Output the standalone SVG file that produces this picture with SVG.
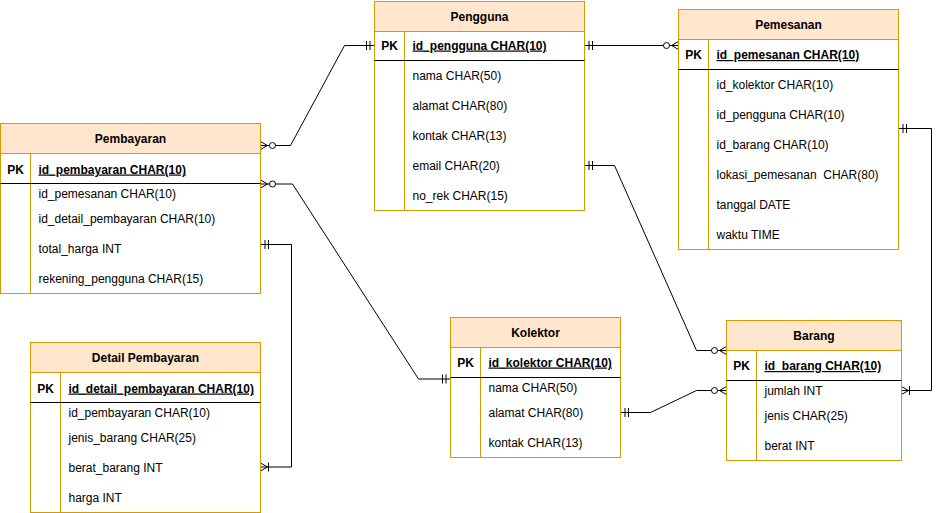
<svg xmlns="http://www.w3.org/2000/svg" width="942" height="513" viewBox="0 0 942 513">
<style>
.frame{fill:#ffffff;stroke:#d79b00;stroke-width:1}
.head{fill:#ffe6cc;stroke:#d79b00;stroke-width:1}
.col{stroke:#d79b00;stroke-width:1}
.sep{stroke:#000000;stroke-width:1}
text{font-family:"Liberation Sans",Arial,Helvetica,sans-serif;font-size:12px;fill:#000000;white-space:pre}
.t{font-weight:bold;text-anchor:middle}
.pk{font-weight:bold;text-anchor:middle}
.key{font-weight:bold;text-decoration:underline}
.edge{fill:none;stroke:#000000;stroke-width:1}
.mk{fill:none;stroke:#000000;stroke-width:1}
</style>
<defs>
<marker id="one" markerUnits="userSpaceOnUse" viewBox="-16 -7 18 14" refX="0" refY="0" markerWidth="18" markerHeight="14" orient="auto-start-reverse" overflow="visible">
<path class="mk" d="M-4.5,-4.5V4.5M-8,-4.5V4.5"/>
</marker>
<marker id="zmany" markerUnits="userSpaceOnUse" viewBox="-16 -7 18 14" refX="0" refY="0" markerWidth="18" markerHeight="14" orient="auto-start-reverse" overflow="visible">
<path class="mk" d="M0,-4L-7,0L0,4"/>
<circle cx="-12" cy="0" r="3" fill="#ffffff" stroke="#000000" stroke-width="1"/>
</marker>
<marker id="omany" markerUnits="userSpaceOnUse" viewBox="-16 -7 18 14" refX="0" refY="0" markerWidth="18" markerHeight="14" orient="auto-start-reverse" overflow="visible">
<path class="mk" d="M0,-4L-7,0L0,4M-8,-4.5V4.5"/>
</marker>
</defs>

<g id="connectors">
<path class="edge" d="M260.5,145.5H290.5L344.5,45.5H374.5" marker-start="url(#zmany)" marker-end="url(#one)"/>
<path class="edge" d="M584.5,45.5H678.5" marker-start="url(#one)" marker-end="url(#zmany)"/>
<path class="edge" d="M260.5,184H292.5L418.5,379H450.5" marker-start="url(#zmany)" marker-end="url(#one)"/>
<path class="edge" d="M260.5,244.5H291.5V467H260.5" marker-start="url(#one)" marker-end="url(#omany)"/>
<path class="edge" d="M584.5,165.5H614.5L696.5,350.5H726.5" marker-start="url(#one)" marker-end="url(#zmany)"/>
<path class="edge" d="M620.5,412.5H650.5L696.5,390.5H726.5" marker-start="url(#one)" marker-end="url(#zmany)"/>
<path class="edge" d="M898.5,128.5H931.5V390.5H901.5" marker-start="url(#one)" marker-end="url(#omany)"/>
</g>

<g id="pengguna">
<rect class="frame" x="374.5" y="1.5" width="210" height="209"/>
<rect class="head" x="374.5" y="1.5" width="210" height="30"/>
<line class="col" x1="404.5" y1="31.5" x2="404.5" y2="210.5"/>
<line class="sep" x1="374.5" y1="60.5" x2="584.5" y2="60.5"/>
<text class="t" x="479.5" y="20.5">Pengguna</text>
<text class="pk" x="389.5" y="49.5">PK</text>
<text class="key" x="412.5" y="49.5">id_pengguna CHAR(10)</text>
<text x="412.5" y="79.5">nama CHAR(50)</text>
<text x="412.5" y="109.5">alamat CHAR(80)</text>
<text x="412.5" y="139.5">kontak CHAR(13)</text>
<text x="412.5" y="169.5">email CHAR(20)</text>
<text x="412.5" y="199.5">no_rek CHAR(15)</text>
</g>

<g id="pemesanan">
<rect class="frame" x="678.5" y="9.5" width="220" height="240"/>
<rect class="head" x="678.5" y="9.5" width="220" height="30"/>
<line class="col" x1="708.5" y1="39.5" x2="708.5" y2="249.5"/>
<line class="sep" x1="678.5" y1="69.5" x2="898.5" y2="69.5"/>
<text class="t" x="788.5" y="28.5">Pemesanan</text>
<text class="pk" x="693.5" y="59">PK</text>
<text class="key" x="716.5" y="59">id_pemesanan CHAR(10)</text>
<text x="716.5" y="89">id_kolektor CHAR(10)</text>
<text x="716.5" y="119">id_pengguna CHAR(10)</text>
<text x="716.5" y="149">id_barang CHAR(10)</text>
<text x="716.5" y="179" xml:space="preserve">lokasi_pemesanan  CHAR(80)</text>
<text x="716.5" y="209">tanggal DATE</text>
<text x="716.5" y="239">waktu TIME</text>
</g>

<g id="pembayaran">
<rect class="frame" x="0.5" y="123.5" width="260" height="170"/>
<rect class="head" x="0.5" y="123.5" width="260" height="30"/>
<line class="col" x1="30.5" y1="153.5" x2="30.5" y2="293.5"/>
<line class="sep" x1="0.5" y1="183.5" x2="260.5" y2="183.5"/>
<text class="t" x="130.5" y="142.5">Pembayaran</text>
<text class="pk" x="15.5" y="173.5">PK</text>
<text class="key" x="38.5" y="173.5">id_pembayaran CHAR(10)</text>
<text x="38.5" y="197.5">id_pemesanan CHAR(10)</text>
<text x="38.5" y="223">id_detail_pembayaran CHAR(10)</text>
<text x="38.5" y="252.5">total_harga INT</text>
<text x="38.5" y="282.5">rekening_pengguna CHAR(15)</text>
</g>

<g id="detail-pembayaran">
<rect class="frame" x="30.5" y="342.5" width="230" height="170"/>
<rect class="head" x="30.5" y="342.5" width="230" height="30"/>
<line class="col" x1="60.5" y1="372.5" x2="60.5" y2="512.5"/>
<line class="sep" x1="30.5" y1="402.5" x2="260.5" y2="402.5"/>
<text class="t" x="145.5" y="361.5">Detail Pembayaran</text>
<text class="pk" x="45.5" y="392.5">PK</text>
<text class="key" x="68.5" y="392.5">id_detail_pembayaran CHAR(10)</text>
<text x="68.5" y="416.5">id_pembayaran CHAR(10)</text>
<text x="68.5" y="441.5">jenis_barang CHAR(25)</text>
<text x="68.5" y="471.5">berat_barang INT</text>
<text x="68.5" y="501.5">harga INT</text>
</g>

<g id="kolektor">
<rect class="frame" x="450.5" y="317.5" width="170" height="140"/>
<rect class="head" x="450.5" y="317.5" width="170" height="30"/>
<line class="col" x1="480.5" y1="347.5" x2="480.5" y2="457.5"/>
<line class="sep" x1="450.5" y1="377.5" x2="620.5" y2="377.5"/>
<text class="t" x="535.5" y="336.5">Kolektor</text>
<text class="pk" x="465.5" y="366.5">PK</text>
<text class="key" x="488.5" y="366.5">id_kolektor CHAR(10)</text>
<text x="488.5" y="391.5">nama CHAR(50)</text>
<text x="488.5" y="416.5">alamat CHAR(80)</text>
<text x="488.5" y="446.5">kontak CHAR(13)</text>
</g>

<g id="barang">
<rect class="frame" x="726.5" y="320.5" width="175" height="140"/>
<rect class="head" x="726.5" y="320.5" width="175" height="30"/>
<line class="col" x1="756.5" y1="350.5" x2="756.5" y2="460.5"/>
<line class="sep" x1="726.5" y1="380.5" x2="901.5" y2="380.5"/>
<text class="t" x="814" y="339.5">Barang</text>
<text class="pk" x="741.5" y="370">PK</text>
<text class="key" x="764.5" y="370">id_barang CHAR(10)</text>
<text x="764.5" y="394.5">jumlah INT</text>
<text x="764.5" y="420">jenis CHAR(25)</text>
<text x="764.5" y="449.5">berat INT</text>
</g>
</svg>
